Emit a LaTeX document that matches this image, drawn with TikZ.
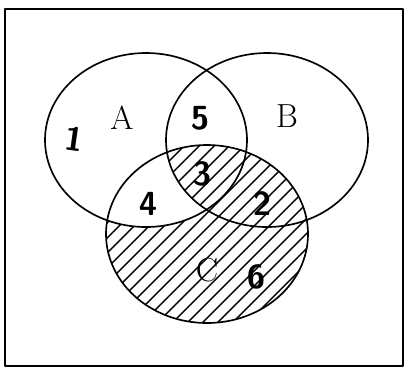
\documentclass[tikz,border=0pt]{standalone}
\usetikzlibrary{positioning}
\begin{document}
\begin{tikzpicture}[x=0.02cm, y=-0.02cm, line join=round]
    \tikzset{set line/.style={draw=black, line width=0.95pt},
             frame line/.style={draw=black, line width=1.2pt},
             hatch line/.style={draw=black, line width=0.8pt},
             set name/.style={font=\fontsize{19}{22}\selectfont, inner sep=0pt},
             region num/.style={font=\fontsize{19}{22}\selectfont\sffamily\bfseries, inner sep=0pt}}
    \def\setA{(146,140) ellipse [x radius=101, y radius=87]}
    \def\setB{(267,140) ellipse [x radius=101, y radius=87]}
    \def\setC{(207,234) ellipse [x radius=101, y radius=89]}
    \useasboundingbox (0,0) rectangle (408,373);

    % Universal set
    \draw[frame line] (5,9) rectangle (403,366);

    % Hatching of C
    \begin{scope}
        \clip \setC;
        \foreach \k in {-100,-85,...,330}
            \draw[hatch line] (\k,340) -- ++(240,-240);
    \end{scope}

    % A and C only stays blank
    \begin{scope}
        \clip \setA;
        \clip \setC;
        \fill[white, even odd rule] (0,0) rectangle (408,373) \setB;
    \end{scope}

    % Set outlines
    \draw[set line] \setA;
    \draw[set line] \setB;
    \draw[set line] \setC;

    % Set names
    \node[set name] (nameA) at (122,118) {A};
    \node[set name] (nameB) at (287,116) {B};
    \node[set name] (nameC) at (207,270) {C};

    % Region numbers
    \node[region num, rotate=-8] (num1) at (74,139) {1};
    \node[region num] (num5) at (200,118) {5};
    \node[region num] (num3) at (202,174) {3};
    \node[region num] (num4) at (148,204) {4};
    \node[region num] (num2) at (262,204) {2};
    \node[region num] (num6) at (256,277) {6};
\end{tikzpicture}
\end{document}
